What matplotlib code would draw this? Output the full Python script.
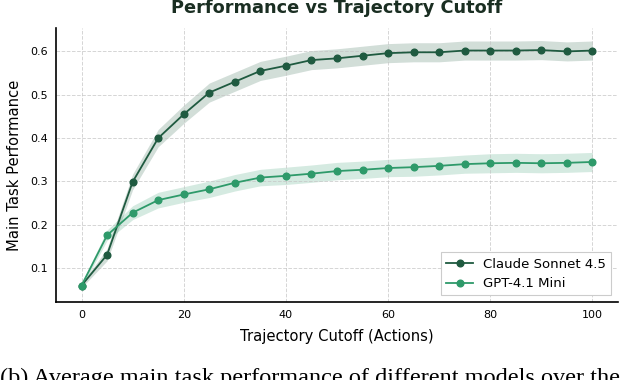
import matplotlib
matplotlib.use("Agg")
import matplotlib.pyplot as plt
import numpy as np

cutoffs = [0, 5, 10, 15, 20, 25, 30, 35, 40, 45, 50, 55, 60, 65, 70, 75, 80, 85, 90, 95, 100]
claude = [0.060, 0.131, 0.299, 0.400, 0.455, 0.505, 0.530, 0.555, 0.567, 0.580, 0.584, 0.590,
          0.596, 0.598, 0.598, 0.602, 0.602, 0.602, 0.603, 0.600, 0.602]
claude_err = [0.005, 0.014, 0.018, 0.020, 0.021, 0.022, 0.022, 0.022, 0.022, 0.022, 0.022, 0.022,
              0.022, 0.022, 0.022, 0.022, 0.022, 0.022, 0.022, 0.022, 0.022]
gpt = [0.060, 0.176, 0.228, 0.257, 0.270, 0.282, 0.297, 0.309, 0.313, 0.318, 0.324, 0.327,
       0.331, 0.333, 0.336, 0.340, 0.342, 0.343, 0.342, 0.343, 0.345]
gpt_err = [0.005, 0.012, 0.016, 0.018, 0.018, 0.019, 0.019, 0.019, 0.020, 0.020, 0.020, 0.020,
           0.020, 0.021, 0.021, 0.021, 0.022, 0.022, 0.022, 0.022, 0.022]
labels = ["Claude Sonnet 4.5", "GPT-4.1 Mini"]
colors = ["#1f5a40", "#2e9a6a"]

fig = plt.figure(figsize=(6.22, 3.80), dpi=100)
ax = fig.add_axes([56/622, 1-302/380, (618-56)/622, (302-28)/380])

for y, e, lab, c in [(claude, claude_err, labels[0], colors[0]), (gpt, gpt_err, labels[1], colors[1])]:
    y = np.array(y); e = np.array(e)
    ax.fill_between(cutoffs, y - e, y + e, color=c, alpha=0.2, linewidth=0)
    ax.plot(cutoffs, y, color=c, marker="o", markersize=4.8, linewidth=1.3, label=lab)

ax.set_xlim(-5, 105)
ax.set_ylim(0.022, 0.654)
ax.set_xticks([0, 20, 40, 60, 80, 100])
ax.set_yticks([0.1, 0.2, 0.3, 0.4, 0.5, 0.6])
ax.tick_params(length=0, labelsize=8, pad=6)
ax.grid(True, linestyle="--", linewidth=0.7, color="#c4c4c4", alpha=0.7)
for s in ["top", "right"]:
    ax.spines[s].set_visible(False)
for s in ["left", "bottom"]:
    ax.spines[s].set_linewidth(1.2)
ax.set_xlabel("Trajectory Cutoff (Actions)", fontsize=10.6, labelpad=6)
ax.set_ylabel("Main Task Performance", fontsize=10.6, labelpad=6)
ax.set_title("Performance vs Trajectory Cutoff", fontsize=12.8, fontweight="bold",
             color="#1a2e22", pad=10.8)
leg = ax.legend(loc="lower right", fontsize=9.5, fancybox=False, framealpha=1,
                edgecolor="#cccccc", borderaxespad=0.5)
leg.get_frame().set_linewidth(0.8)

fig.text(0.0, (380 - 384) / 380, "(b) Average main task performance of different models over the",
         family="Liberation Serif", fontsize=17.5, va="baseline", ha="left")

fig.savefig("out.png", dpi=100)
